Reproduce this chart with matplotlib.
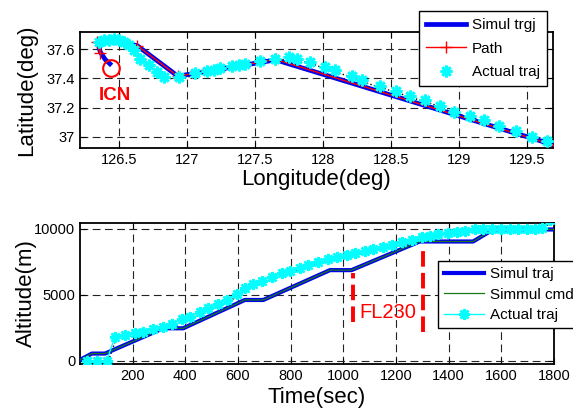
import numpy as np
import matplotlib
matplotlib.use("Agg")
import matplotlib.pyplot as plt
from matplotlib.ticker import StrMethodFormatter
from matplotlib.transforms import ScaledTranslation

plt.rcParams['font.family'] = ['Liberation Sans', 'DejaVu Sans']

# ---- top: ground track ----
path_lon = [126.355, 126.335, 126.63, 126.93, 127.65, 129.70]
path_lat = [37.575, 37.650, 37.625, 37.415, 37.530, 36.940]

sim_lon = [126.430, 126.395, 126.360, 126.340, 126.45, 126.63, 126.93, 127.65, 129.70]
sim_lat = [37.500, 37.530, 37.580, 37.645, 37.650, 37.625, 37.415, 37.527, 36.942]

act_lon = [126.348, 126.385, 126.421, 126.458, 126.495, 126.532, 126.568, 126.605,
           126.654, 126.716, 126.777, 126.826, 126.936, 127.059, 127.145, 127.193,
           127.243, 127.329, 127.377, 127.426, 127.537, 127.647, 127.745, 127.807,
           127.904, 128.015, 128.088, 128.211, 128.284, 128.419, 128.537, 128.640,
           128.750, 128.860, 128.963, 129.081, 129.186, 129.296, 129.419, 129.539,
           129.645]
act_lat = [37.650, 37.661, 37.666, 37.673, 37.666, 37.650, 37.627, 37.598,
           37.536, 37.491, 37.445, 37.411, 37.411, 37.434, 37.452, 37.457,
           37.468, 37.484, 37.491, 37.498, 37.518, 37.530, 37.547, 37.536,
           37.513, 37.476, 37.455, 37.416, 37.388, 37.347, 37.315, 37.279,
           37.252, 37.211, 37.172, 37.143, 37.111, 37.076, 37.036, 37.001,
           36.967]

icn_lon, icn_lat = 126.435, 37.47

# ---- bottom: altitude profile ----
sim_t = [0, 45, 95, 316, 392, 626, 696, 949, 1031, 1290, 1493, 1569, 1800]
sim_alt = [80, 560, 560, 2475, 2475, 4620, 4620, 6880, 6880, 9050, 9050, 9960, 9960]

act_t = [25, 63, 101, 133, 171, 209, 240, 278, 314, 348, 386, 418, 456, 487, 525,
         560, 595, 627, 658, 690, 728, 766, 797, 835, 867, 905, 943, 975, 1013,
         1044, 1082, 1114, 1152, 1183, 1221, 1259, 1297, 1329, 1360, 1398, 1430,
         1462, 1500, 1532, 1564, 1600, 1633, 1664, 1696, 1728, 1753, 1785]
act_alt = [0, 0, 0, 1840, 1970, 2096, 2222, 2400, 2600, 2803, 3156, 3358, 3737,
           3990, 4318, 4640, 5050, 5505, 5833, 6085, 6340, 6640, 6843, 7070, 7273,
           7525, 7702, 7853, 8030, 8207, 8333, 8460, 8660, 8788, 8990, 9167, 9370,
           9470, 9621, 9722, 9798, 9873, 9975, 10020, 10020, 10020, 10020, 10020,
           10020, 10020, 10040, 10700]

fl_t = [1038, 1301]
fl_lo = [2950, 2220]
fl_hi = [6670, 8790]

fig = plt.figure(figsize=(5.73, 4.12), dpi=100)
ax1 = fig.add_axes([0.1396, 0.640, 0.8255, 0.283])
ax2 = fig.add_axes([0.1396, 0.1165, 0.8272, 0.3422])

star = (8, 2, 0)
shadow = lambda ax: ax.transData + ScaledTranslation(1.2/100, -1.8/100, fig.dpi_scale_trans)

def style(ax):
    ax.grid(True, color='#222222', linestyle=(0, (7, 4)), lw=0.8)
    ax.set_axisbelow(True)
    ax.tick_params(direction='in', top=True, right=True, labelsize=10.5, length=4)
    for s in ax.spines.values():
        s.set_linewidth(1.3)

# top
ax1.plot(act_lon, act_lat, ls=':', color='k', lw=1.0, transform=shadow(ax1), zorder=2)
ax1.plot(sim_lon, sim_lat, color='#0000ee', lw=3.4, label='Simul trgj', zorder=3)
ax1.plot(path_lon, path_lat, color='red', lw=1.0, marker='+', ms=8, mew=1.0, label='Path', zorder=4)
ax1.plot(act_lon, act_lat, ls='none', marker=star, ms=8.5, mew=1.9, color='cyan',
         label='Actual traj', zorder=5)
ax1.plot([icn_lon], [icn_lat], marker='o', ms=12, mfc='none', mec='red', mew=1.5, zorder=6)
ax1.text(icn_lon + 0.03, 37.28, 'ICN', color='red', fontsize=13.5, fontweight='bold',
         ha='center', va='center')
ax1.set_xlim(126.21, 129.69)
ax1.set_ylim(36.92, 37.72)
ax1.set_xticks([126.5, 127, 127.5, 128, 128.5, 129, 129.5])
ax1.set_yticks([37, 37.2, 37.4, 37.6])
ax1.xaxis.set_major_formatter(StrMethodFormatter('{x:g}'))
ax1.yaxis.set_major_formatter(StrMethodFormatter('{x:g}'))
style(ax1)
ax1.set_xlabel('Longitude(deg)', fontsize=16, labelpad=1)
ax1.set_ylabel('Latitude(deg)', fontsize=16, labelpad=7)
leg1 = ax1.legend(loc='upper left', bbox_to_anchor=(0.717, 1.175), borderaxespad=0,
                  fontsize=11, fancybox=False, edgecolor='k', framealpha=1,
                  handlelength=2.6, labelspacing=0.62, borderpad=0.45, handletextpad=0.4)
leg1.get_frame().set_linewidth(1.0)

# bottom
ax2.plot(act_t, act_alt, ls=':', color='k', lw=1.0, transform=shadow(ax2), zorder=2)
ax2.plot(sim_t, sim_alt, color='#0000ee', lw=3.0, label='Simul traj', zorder=3)
ax2.plot(sim_t, sim_alt, color='#1a7a1a', lw=0.9, label='Simmul cmd', zorder=4)
ax2.plot(act_t, act_alt, color='cyan', lw=1.0, marker=star, ms=8, mew=1.8,
         label='Actual traj', zorder=5)
ax2.vlines(fl_t, fl_lo, fl_hi, colors='red', lw=2.8, linestyles=(0, (4, 1.6)), zorder=6)
ax2.text(np.mean(fl_t), 3640, 'FL230', color='red', fontsize=14.5, ha='center', va='center')
ax2.set_xlim(0, 1800)
ax2.set_ylim(-230, 10450)
ax2.set_xticks(range(200, 1801, 200))
ax2.set_yticks([0, 5000, 10000])
style(ax2)
ax2.set_xlabel('Time(sec)', fontsize=16, labelpad=3)
ax2.set_ylabel('Altitude(m)', fontsize=16, labelpad=-2)
leg2 = ax2.legend(loc='upper left', bbox_to_anchor=(0.755, 0.73), borderaxespad=0,
                  fontsize=11, fancybox=False, edgecolor='k', framealpha=1,
                  handlelength=2.6, labelspacing=0.42, borderpad=0.4, handletextpad=0.4)
leg2.get_frame().set_linewidth(1.0)

fig.savefig('out.png', dpi=100)
